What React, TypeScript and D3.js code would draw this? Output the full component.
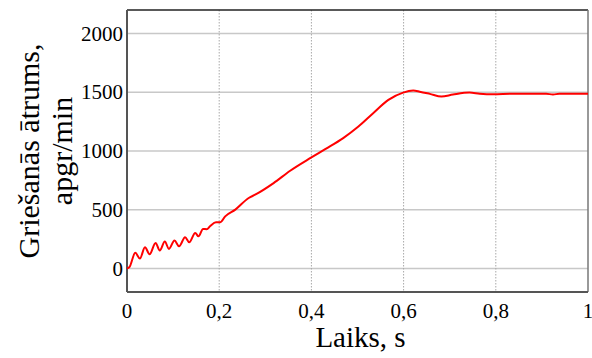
import React from "react";
import * as d3 from "d3";

// Rotor speed during start-up (time in seconds, speed in rpm)
const timeS = [
  0, 0.005, 0.018, 0.028, 0.039, 0.049, 0.062, 0.071, 0.082, 0.091, 0.103,
  0.113, 0.126, 0.135, 0.148, 0.155, 0.165, 0.173, 0.18, 0.193, 0.202, 0.213,
  0.235, 0.264, 0.278, 0.318, 0.354, 0.4, 0.43, 0.469, 0.502, 0.534, 0.567,
  0.599, 0.621, 0.635, 0.657, 0.682, 0.707, 0.743, 0.765, 0.794, 0.837, 0.909,
  0.924, 0.938, 1.0,
];
const speedRpm = [
  0, 10, 133, 85, 181, 121, 218, 153, 229, 167, 238, 189, 266, 223, 303, 274,
  337, 335, 359, 393, 393, 444, 501, 600, 628, 727, 832, 945, 1016, 1110, 1208,
  1322, 1435, 1497, 1514, 1505, 1486, 1463, 1480, 1497, 1488, 1483, 1488, 1488,
  1480, 1488, 1488,
];

const xTicks = [0, 0.2, 0.4, 0.6, 0.8, 1];
const xTickLabels = ["0", "0,2", "0,4", "0,6", "0,8", "1"];
const yTicks = [0, 500, 1000, 1500, 2000];

const W = 592;
const H = 358;
const m = { left: 127, right: 588, top: 10, bottom: 292 };

export default function App() {
  const x = d3.scaleLinear().domain([0, 1]).range([m.left, m.right]);
  const y = d3.scaleLinear().domain([-200, 2200]).range([m.bottom, m.top]);

  const pts: [number, number][] = timeS.map((t, i) => [t, speedRpm[i]]);
  const line = d3
    .line<[number, number]>()
    .x((d) => x(d[0]))
    .y((d) => y(d[1]))
    .curve(d3.curveMonotoneX);

  const cy = (m.top + m.bottom) / 2;

  return (
    <svg
      width={W}
      height={H}
      fontFamily="Liberation Serif"
      style={{ position: "absolute", left: 0, top: 0, background: "#fff" }}
    >
      {/* horizontal grid */}
      {yTicks.map((v) => (
        <line
          key={"h" + v}
          x1={m.left}
          x2={m.right}
          y1={y(v)}
          y2={y(v)}
          stroke="#c8c8c8"
          strokeWidth={1.5}
        />
      ))}
      {/* vertical grid */}
      {xTicks.slice(1, -1).map((v) => (
        <line
          key={"v" + v}
          x1={x(v)}
          x2={x(v)}
          y1={m.top}
          y2={m.bottom}
          stroke="#a8a8a8"
          strokeWidth={1}
          strokeDasharray="1.5,1.5"
        />
      ))}
      {/* frame */}
      <line x1={m.left} x2={m.right} y1={m.top} y2={m.top} stroke="#222" strokeWidth={1.5} />
      <line x1={m.right} x2={m.right} y1={m.top} y2={m.bottom} stroke="#777" strokeWidth={1.5} />
      <line x1={m.left} x2={m.left} y1={m.top} y2={m.bottom} stroke="#555" strokeWidth={2} />
      <line x1={m.left} x2={m.right} y1={m.bottom} y2={m.bottom} stroke="#555" strokeWidth={2} />

      {/* speed curve */}
      <path d={line(pts) ?? ""} fill="none" stroke="#ff0000" strokeWidth={2} />

      {/* y tick labels */}
      {yTicks.map((v) => (
        <text
          key={"yt" + v}
          x={m.left - 4}
          y={y(v) + 7}
          textAnchor="end"
          fontFamily="Liberation Serif"
          fontSize={21}
        >
          {v}
        </text>
      ))}
      {/* x tick labels */}
      {xTicks.map((v, i) => (
        <text
          key={"xt" + v}
          x={x(v)}
          y={318}
          textAnchor="middle"
          fontFamily="Liberation Serif"
          fontSize={21}
        >
          {xTickLabels[i]}
        </text>
      ))}

      {/* axis titles */}
      <text
        x={(m.left + m.right) / 2 + 3}
        y={347}
        textAnchor="middle"
        fontFamily="Liberation Serif"
        fontSize={29}
      >
        Laiks, s
      </text>
      <text
        transform={`translate(39, ${cy}) rotate(-90)`}
        textAnchor="middle"
        fontFamily="Liberation Serif"
        fontSize={30}
      >
        Griešanās ātrums,
      </text>
      <text
        transform={`translate(72, ${cy}) rotate(-90)`}
        textAnchor="middle"
        fontFamily="Liberation Serif"
        fontSize={30}
      >
        apgr/min
      </text>
    </svg>
  );
}
